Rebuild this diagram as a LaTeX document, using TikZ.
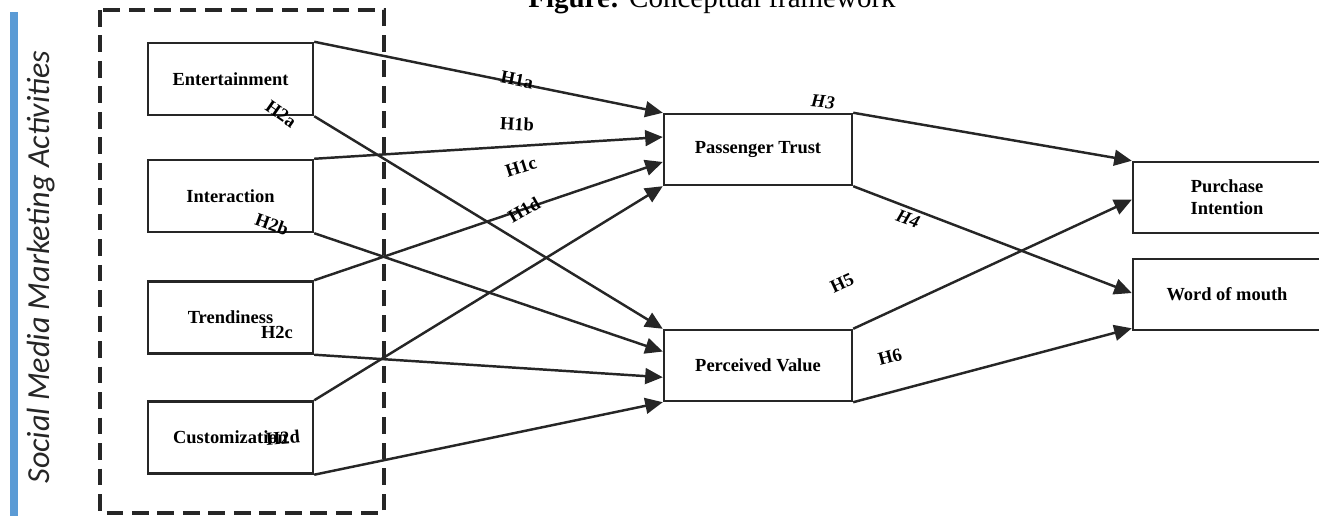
\documentclass[tikz,border=0pt]{standalone}
\usepackage{fontspec}
\setmainfont{Liberation Serif}
\newfontfamily\sidefont{Carlito}
\usepackage{tikz}
\usetikzlibrary{positioning,calc,arrows.meta}
\definecolor{linegray}{HTML}{262626}
\definecolor{barblue}{HTML}{5B9BD5}
\tikzset{
    every node/.style={font=\fontsize{10.5}{12.5}\selectfont\bfseries},
    leftbox/.style={draw=linegray, line width=1.4pt, minimum width=3.3cm, minimum height=1.44cm, align=center},
    rightbox/.style={draw=linegray, line width=1.4pt, minimum width=3.76cm, minimum height=1.42cm, align=center},
    hyp/.style={inner sep=1pt},
    arrow/.style={-{Triangle[length=10pt,width=9pt]}, draw=linegray, fill=linegray, line width=1.4pt},
}

\begin{document}
\begin{tikzpicture}[x=0.02cm, y=-0.02cm]
  \useasboundingbox (0,0) rectangle (1319,516);
  \node[anchor=base, font=\fontsize{16.5}{18}\selectfont] (title) at (712,8) {\textbf{Figure:} Conceptual framework};
  \fill[barblue] (10,12) rectangle (18,520);
  \node[rotate=90, font=\fontsize{18.3}{20}\selectfont\sidefont\itshape, text=linegray] (sma) at (41,267) {Social Media Marketing Activities};
  \draw[linegray, line width=2pt, dash pattern=on 9.5pt off 5pt] (100,10) rectangle (384,513);
  % left column
  \node[leftbox] (ent) at (230.5,79) {Entertainment};
  \node[leftbox] (int) at (230.5,196) {Interaction};
  \node[leftbox] (trd) at (230.5,317.5) {Trendiness};
  \node[leftbox] (cus) at (230.5,437.5) {Customization};
  % mediators and outcomes
  \node[rightbox] (pt) at (758,149.5) {Passenger Trust};
  \node[rightbox] (pv) at (758,365.5) {Perceived Value};
  \node[rightbox] (pi) at (1227,197.5) {Purchase\\Intention};
  \node[rightbox] (wom) at (1227,294.5) {Word of mouth};
    \draw[arrow] (ent.north east) -- (pt.north west);
    \draw[arrow] (int.north east) -- ($(pt.north west)!0.33!(pt.south west)$);
    \draw[arrow] (trd.north east) -- ($(pt.north west)!0.67!(pt.south west)$);
    \draw[arrow] (cus.north east) -- (pt.south west);
    \draw[arrow] (ent.south east) -- (pv.north west);
    \draw[arrow] (int.south east) -- ($(pv.north west)!0.31!(pv.south west)$);
    \draw[arrow] (trd.south east) -- ($(pv.north west)!0.66!(pv.south west)$);
    \draw[arrow] (cus.south east) -- (pv.south west);
    \draw[arrow] (pt.north east) -- (pi.north west);
    \draw[arrow] (pt.south east) -- ($(wom.north west)!0.48!(wom.south west)$);
    \draw[arrow] (pv.north east) -- ($(pi.north west)!0.53!(pi.south west)$);
    \draw[arrow] (pv.south east) -- ($(wom.north west)!0.96!(wom.south west)$);
  % hypothesis labels
  \node[hyp, rotate=-11] (h1a) at (517,80) {H1a};
  \node[hyp, rotate=-3] (h1b) at (517,124) {H1b};
  \node[hyp, rotate=18] (h1c) at (521,167) {H1c};
  \node[hyp, rotate=30] (h1d) at (524,210) {H1d};
  \node[hyp, rotate=-35] (h2a) at (281,114) {H2a};
  \node[hyp, rotate=-20] (h2b) at (272,224) {H2b};
  \node[hyp] (h2c) at (277,332) {H2c};
  \node[hyp, rotate=5] (h2d) at (283,438) {H2d};
  \node[hyp, rotate=-5, font=\fontsize{10.5}{12.5}\selectfont\bfseries\itshape] (h3) at (823,102) {H3};
  \node[hyp, rotate=-20, font=\fontsize{10.5}{12.5}\selectfont\bfseries\itshape] (h4) at (908,219) {H4};
  \node[hyp, rotate=25] (h5) at (842,283) {H5};
  \node[hyp, rotate=15] (h6) at (890,357) {H6};
\end{tikzpicture}
\end{document}
